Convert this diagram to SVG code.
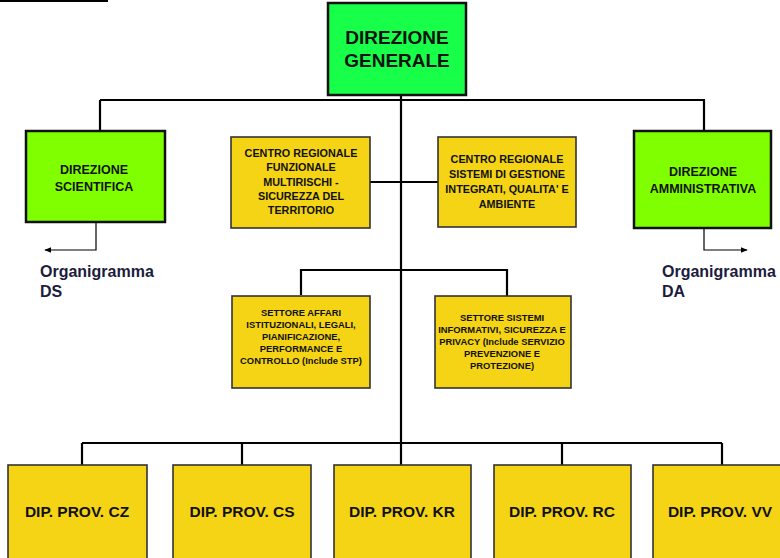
<svg xmlns="http://www.w3.org/2000/svg" width="780" height="558" viewBox="0 0 780 558">
<style>
.g1{fill:#17FF48;stroke:#111;stroke-width:2.5}
.g2{fill:#80FF00;stroke:#111;stroke-width:2.5}
.y{fill:#F5D415;stroke:#333;stroke-width:1.6}
.ln{fill:none;stroke:#000;stroke-width:2.2}
.thin{fill:none;stroke:#000;stroke-width:1.2}
text{font-family:"Liberation Sans",Arial,sans-serif;font-weight:bold;text-anchor:middle;fill:#111}
.t19{font-size:19px}
.t12{font-size:12.5px}
.t11{font-size:10.8px}
.t9{font-size:9.4px}
.t16{font-size:15.5px}
.org{font-size:16px;fill:#1c1c3c;text-anchor:start}
</style>
<defs>
<marker id="ah" viewBox="0 0 10 10" refX="9" refY="5" markerWidth="7" markerHeight="7" orient="auto-start-reverse" markerUnits="userSpaceOnUse">
<path d="M0,1 L10,5 L0,9 z" fill="#000"/>
</marker>
</defs>
<rect width="780" height="558" fill="#fff"/>
<line x1="0" y1="1" x2="108" y2="1" stroke="#000" stroke-width="2"/>
<g id="connectors">
<line class="ln" x1="401" y1="95" x2="401" y2="443"/>
<line class="ln" x1="100" y1="100" x2="705" y2="100"/>
<line class="ln" x1="100" y1="100" x2="100" y2="131"/>
<line class="ln" x1="704" y1="100" x2="704" y2="131"/>
<line class="ln" x1="370" y1="182" x2="438" y2="182"/>
<path class="ln" d="M301,295 V270 H507 V296"/>
<line class="ln" x1="82" y1="443" x2="722" y2="443"/>
<line class="ln" x1="82" y1="443" x2="82" y2="465"/>
<line class="ln" x1="242" y1="443" x2="242" y2="465"/>
<line class="ln" x1="401" y1="443" x2="401" y2="465"/>
<line class="ln" x1="562" y1="443" x2="562" y2="465"/>
<line class="ln" x1="722" y1="443" x2="722" y2="465"/>
<path class="thin" d="M96,222 V250 H45" marker-end="url(#ah)"/>
<path class="thin" d="M704,228 V250 H747" marker-end="url(#ah)"/>
</g>
<g id="dg">
<rect class="g1" x="328" y="3" width="138" height="92"/>
<text class="t19" x="397" y="44">DIREZIONE</text>
<text class="t19" x="397" y="67">GENERALE</text>
</g>
<g id="ds">
<rect class="g2" x="26" y="131" width="139" height="91"/>
<text class="t12" x="94" y="174">DIREZIONE</text>
<text class="t12" x="94" y="191">SCIENTIFICA</text>
</g>
<g id="da">
<rect class="g2" x="634" y="131" width="137" height="97"/>
<text class="t12" x="703" y="176">DIREZIONE</text>
<text class="t12" x="703" y="193">AMMINISTRATIVA</text>
</g>
<g id="org-ds">
<text class="org" x="40" y="277">Organigramma</text>
<text class="org" x="40" y="297">DS</text>
</g>
<g id="org-da">
<text class="org" x="662" y="277">Organigramma</text>
<text class="org" x="662" y="297">DA</text>
</g>
<g id="crf">
<rect class="y" x="231" y="137" width="139" height="91"/>
<text class="t11" x="301" y="157">CENTRO REGIONALE</text>
<text class="t11" x="301" y="171">FUNZIONALE</text>
<text class="t11" x="301" y="186">MULTIRISCHI -</text>
<text class="t11" x="301" y="200">SICUREZZA DEL</text>
<text class="t11" x="301" y="214">TERRITORIO</text>
</g>
<g id="crs">
<rect class="y" x="438" y="137" width="138" height="90"/>
<text class="t11" x="507" y="163">CENTRO REGIONALE</text>
<text class="t11" x="507" y="178">SISTEMI DI GESTIONE</text>
<text class="t11" x="507" y="193">INTEGRATI, QUALITA' E</text>
<text class="t11" x="507" y="208">AMBIENTE</text>
</g>
<g id="saf">
<rect class="y" x="232" y="296" width="138" height="92"/>
<text class="t9" x="301" y="316">SETTORE AFFARI</text>
<text class="t9" x="301" y="328">ISTITUZIONALI, LEGALI,</text>
<text class="t9" x="301" y="340">PIANIFICAZIONE,</text>
<text class="t9" x="301" y="352">PERFORMANCE E</text>
<text class="t9" x="301" y="364">CONTROLLO (Include STP)</text>
</g>
<g id="ssi">
<rect class="y" x="435" y="296" width="136" height="92"/>
<text class="t9" x="502" y="321">SETTORE SISTEMI</text>
<text class="t9" x="502" y="333">INFORMATIVI, SICUREZZA E</text>
<text class="t9" x="502" y="345">PRIVACY (Include SERVIZIO</text>
<text class="t9" x="502" y="357">PREVENZIONE E</text>
<text class="t9" x="502" y="369">PROTEZIONE)</text>
</g>
<g id="cz">
<rect class="y" x="8" y="465" width="139" height="100"/>
<text class="t16" x="77" y="517">DIP. PROV. CZ</text>
</g>
<g id="cs">
<rect class="y" x="173" y="465" width="138" height="100"/>
<text class="t16" x="242" y="517">DIP. PROV. CS</text>
</g>
<g id="kr">
<rect class="y" x="334" y="465" width="137" height="100"/>
<text class="t16" x="402" y="517">DIP. PROV. KR</text>
</g>
<g id="rc">
<rect class="y" x="494" y="465" width="137" height="100"/>
<text class="t16" x="562" y="517">DIP. PROV. RC</text>
</g>
<g id="vv">
<rect class="y" x="653" y="465" width="140" height="100"/>
<text class="t16" x="720" y="517">DIP. PROV. VV</text>
</g>
</svg>
